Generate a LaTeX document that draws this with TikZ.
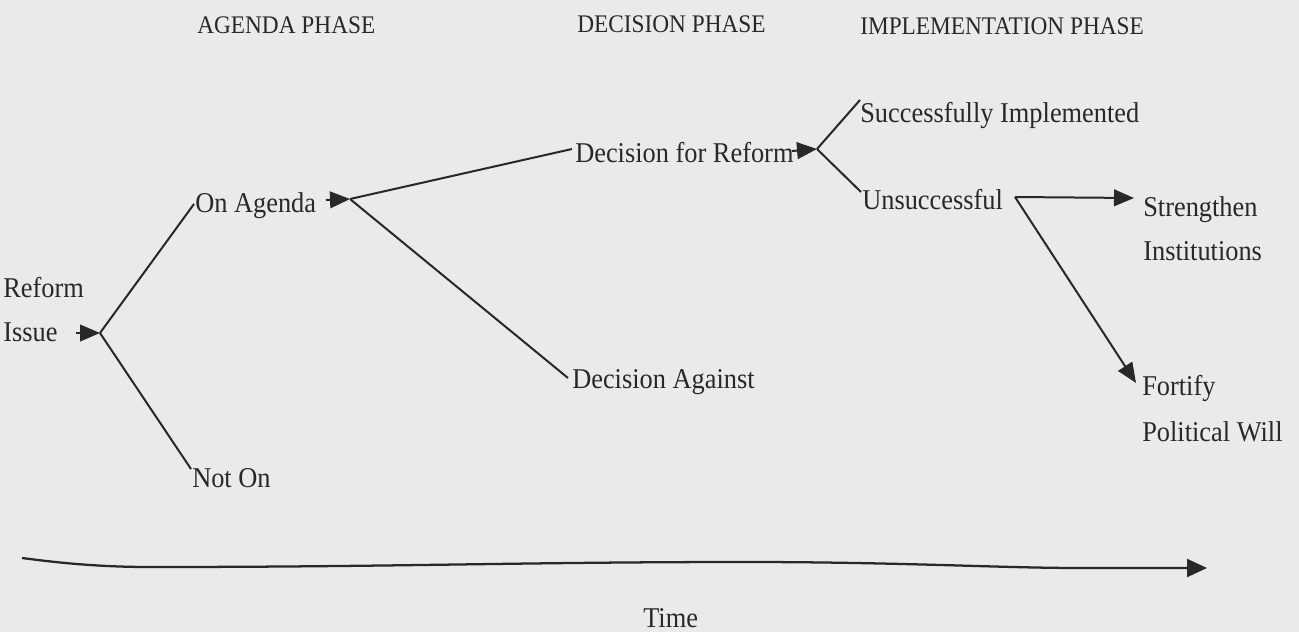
\documentclass[tikz,border=0pt]{standalone}
\usepackage{fontspec}
\usetikzlibrary{arrows.meta}
\newfontfamily\tf[FakeStretch=0.92]{Liberation Serif}
\definecolor{bg}{RGB}{234,234,234}
\definecolor{ink}{RGB}{40,40,40}
\begin{document}
\begin{tikzpicture}[x=0.75pt,y=-0.75pt,
  lbl/.style={inner sep=0pt, anchor=base west, text=ink, font=\tf\fontsize{21.5}{26}\selectfont},
  hdr/.style={inner sep=0pt, anchor=base west, text=ink, font=\tf\fontsize{19}{24}\selectfont},
  conn/.style={draw=ink, line width=1.5pt},
  arr/.style={conn, -{Triangle[length=15pt,width=12.5pt]}},
  timeline/.style={draw=ink, line width=1.7pt, -{Triangle[length=15pt,width=13.5pt]}},
]
\fill[bg] (0,0) rectangle (1299,632);
\useasboundingbox (0,0) rectangle (1299,632);

% headers
\node[hdr] (hAgenda) at (197,33) {AGENDA PHASE};
\node[hdr] (hDecision) at (577,32) {DECISION PHASE};
\node[hdr] (hImpl) at (860,34) {IMPLEMENTATION PHASE};

% labels
\node[lbl] (reform) at (3,297) {Reform};
\node[lbl] (issue) at (3,341) {Issue};
\node[lbl] (onagenda) at (195,212) {On Agenda};
\node[lbl] (noton) at (192,487) {Not On};
\node[lbl] (dfor) at (575,162) {Decision for Reform};
\node[lbl] (dagainst) at (572,388) {Decision Against};
\node[lbl] (success) at (860,122) {Successfully Implemented};
\node[lbl] (unsucc) at (862,209) {Unsuccessful};
\node[lbl] (strength) at (1143,216) {Strengthen};
\node[lbl] (instit) at (1143,260) {Institutions};
\node[lbl] (fortify) at (1142,395) {Fortify};
\node[lbl] (polwill) at (1142,441) {Political Will};
\node[lbl] (time) at (643,627) {Time};

% junctions and connector ends
\coordinate (j1) at (100,333);
\coordinate (j2) at (350,199);
\coordinate (j3) at (817,149);
\coordinate (j4) at (1015,197);
\coordinate (iss-s) at (76,333);
\coordinate (oa-in) at (194,204);
\coordinate (no-in) at (191,469);
\coordinate (oa-s) at (326,200);
\coordinate (df-in) at (572,149);
\coordinate (da-in) at (568,378);
\coordinate (df-s) at (792,151);
\coordinate (su-in) at (860,100);
\coordinate (un-in) at (861,192);
\coordinate (st-in) at (1134,198);
\coordinate (fo-in) at (1136,383);
\coordinate (t0) at (22,558);
\coordinate (t1) at (150,567);
\coordinate (t2) at (746,562);
\coordinate (t3) at (1080,568);
\coordinate (t4) at (1207,568);

% agenda phase
\draw[arr] (iss-s) -- (j1);
\draw[conn] (j1) -- (oa-in);
\draw[conn] (j1) -- (no-in);
% decision phase
\draw[arr] (oa-s) -- (j2);
\draw[conn] (j2) -- (df-in);
\draw[conn] (j2) -- (da-in);
% implementation phase
\draw[arr] (df-s) -- (j3);
\draw[conn] (j3) -- (su-in);
\draw[conn] (j3) -- (un-in);
\draw[arr] (j4) -- (st-in);
\draw[arr] (j4) -- (fo-in);

% time axis
\draw[timeline] (t0) .. controls (60,563) and (100,567) .. (t1)
  .. controls (400,567) and (520,562) .. (t2)
  .. controls (900,562) and (1000,568) .. (t3) -- (t4);
\end{tikzpicture}
\end{document}
